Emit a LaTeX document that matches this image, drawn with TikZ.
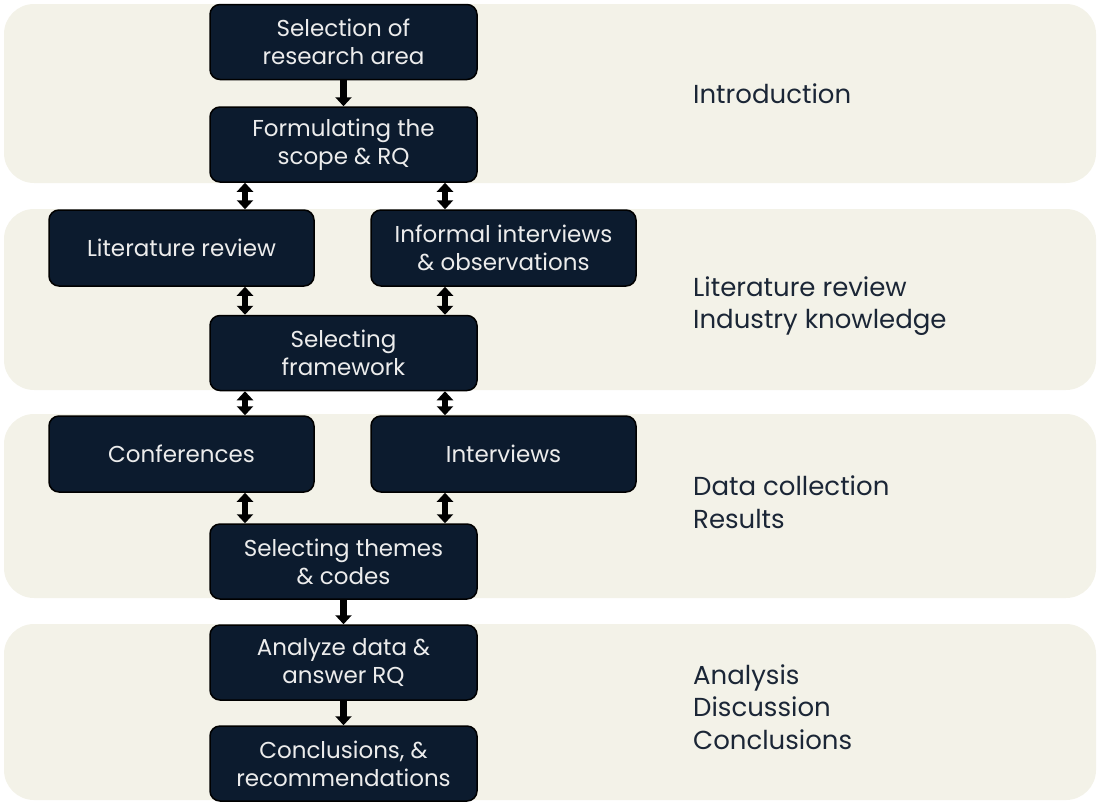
\documentclass[tikz,border=0pt]{standalone}
\usepackage{fontspec}
\setmainfont{Poppins}
\usetikzlibrary{arrows.meta}
\definecolor{bandfill}{HTML}{F3F2E8}
\definecolor{boxfill}{HTML}{0C1B2E}
\definecolor{boxtext}{HTML}{ECECEC}
\definecolor{labeltext}{HTML}{1B2636}
\tikzset{
  band/.style={fill=bandfill, rounded corners=30pt},
  stepbox/.style={draw=black, line width=1.5pt, fill=boxfill, rounded corners=10pt,
    text=boxtext, align=center, inner sep=0pt,
    font=\fontsize{23}{28}\selectfont},
  widebox/.style={stepbox, minimum width=267pt, minimum height=75pt},
  sidebox/.style={stepbox, minimum width=265pt, minimum height=76pt},
  phase/.style={anchor=west, align=left, text=labeltext, inner sep=0pt,
    font=\fontsize{26}{32.5}\selectfont},
  tip/.tip={Triangle[width=16pt,length=9pt]},
  onearrow/.style={line width=6.5pt, -tip},
  twoarrow/.style={line width=6.5pt, tip-tip}
}
\begin{document}
\begin{tikzpicture}[x=1pt,y=-1pt]
\useasboundingbox (0,0) rectangle (1097,801);

% phase bands
\fill[band] (4,4) rectangle (1096,183);
\fill[band] (4,209) rectangle (1096,390);
\fill[band] (4,414) rectangle (1096,598);
\fill[band] (4,624) rectangle (1096,800);

% columns of the two-way links
\coordinate (cl) at (245,0);
\coordinate (cr) at (445,0);

% process steps
\node[widebox] (area) at (343.5,42) {Selection of\\research area};
\node[widebox] (scope) at (343.5,144.5) {Formulating the\\scope \& RQ};
\node[sidebox] (lit) at (181.5,248) {Literature review};
\node[sidebox] (inf) at (503.5,248) {Informal interviews\\\& observations};
\node[widebox] (frame) at (343.5,353) {Selecting\\framework};
\node[sidebox] (conf) at (181.5,454) {Conferences};
\node[sidebox] (intv) at (503.5,454) {Interviews};
\node[widebox] (themes) at (343.5,561.5) {Selecting themes\\\& codes};
\node[widebox] (analyze) at (343.5,662.5) {Analyze data \&\\answer RQ};
\node[widebox] (concl) at (343.5,763.5) {Conclusions, \&\\recommendations};

% links
\draw[onearrow] (area.south) -- (scope.north);
\draw[twoarrow] (scope.south -| cl) -- (lit.north -| cl);
\draw[twoarrow] (scope.south -| cr) -- (inf.north -| cr);
\draw[twoarrow] (lit.south -| cl) -- (frame.north -| cl);
\draw[twoarrow] (inf.south -| cr) -- (frame.north -| cr);
\draw[twoarrow] (frame.south -| cl) -- (conf.north -| cl);
\draw[twoarrow] (frame.south -| cr) -- (intv.north -| cr);
\draw[twoarrow] (conf.south -| cl) -- (themes.north -| cl);
\draw[twoarrow] (intv.south -| cr) -- (themes.north -| cr);
\draw[onearrow] (themes.south) -- (analyze.north);
\draw[onearrow] (analyze.south) -- (concl.north);

% phase names
\node[phase] (p1) at (693,94) {Introduction};
\node[phase] (p2) at (693,306) {Literature review\\Industry knowledge};
\node[phase] (p3) at (693,502) {Data collection\\Results};
\node[phase] (p4) at (693,707) {Analysis\\Discussion\\Conclusions};
\end{tikzpicture}
\end{document}
